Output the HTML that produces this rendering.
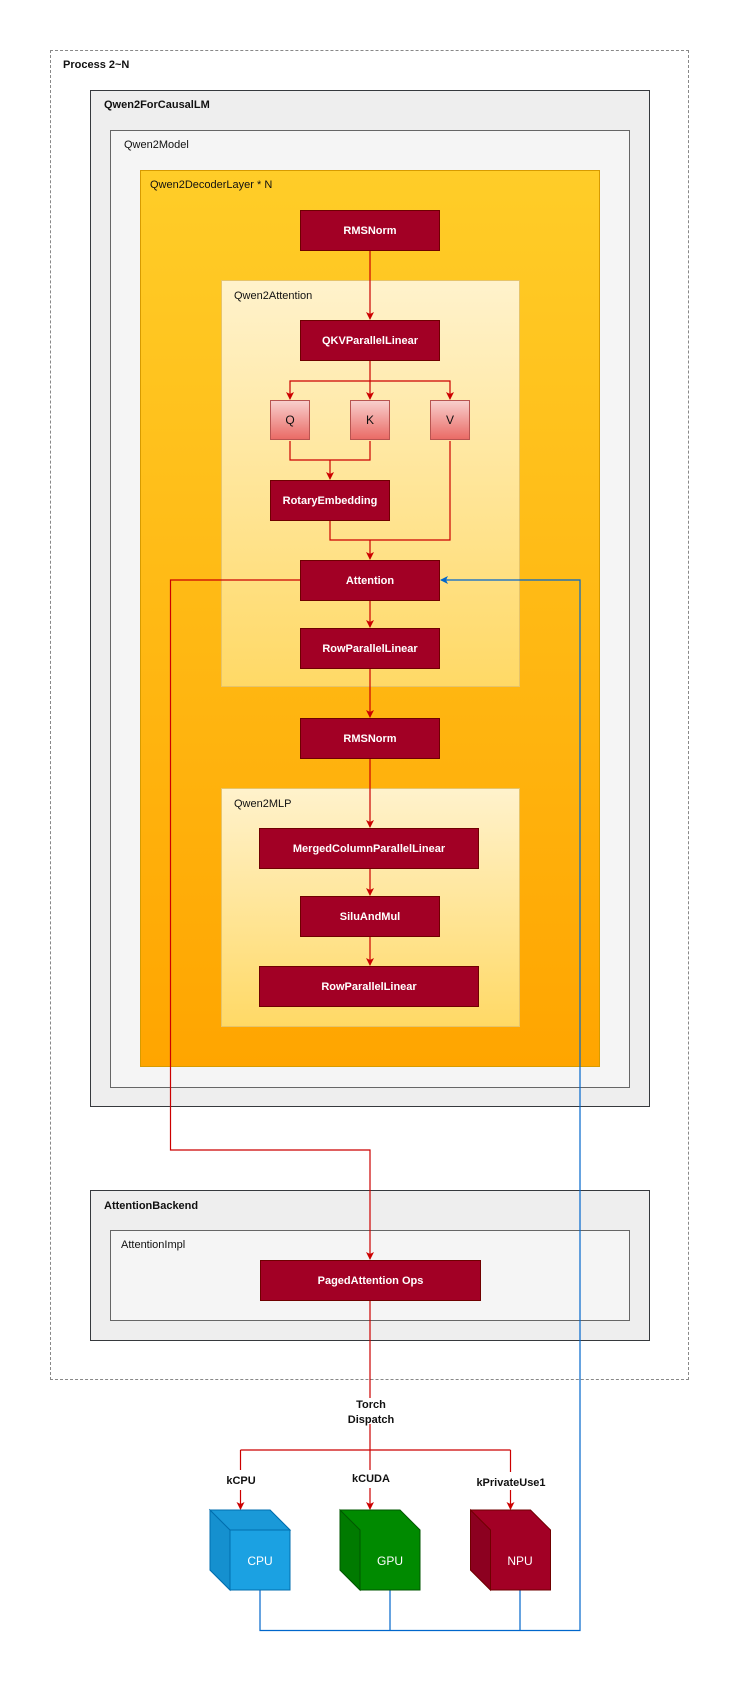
<!DOCTYPE html>
<html><head><meta charset="utf-8"><style>
body{margin:0;width:741px;height:1689px;background:#fff;position:relative;font-family:"Liberation Sans",sans-serif;overflow:hidden}
.a{position:absolute;box-sizing:border-box}
.lbl{position:absolute;font-size:11px;color:#111}
.b{position:absolute;box-sizing:border-box;background:#a20025;border:1px solid #6f0000;color:#fff;font-size:11px;font-weight:bold;display:flex;align-items:center;justify-content:center}
.q{position:absolute;box-sizing:border-box;background:linear-gradient(#f8cecc,#ea6b66);border:1px solid #b85450;color:#111;font-size:12px;display:flex;align-items:center;justify-content:center;width:40px;height:40px;top:400px}
svg{position:absolute;left:0;top:0}
</style></head><body>
<div class="a" style="left:50px;top:50px;width:639px;height:1330px;border:1px dashed #888"></div>
<div class="lbl" style="left:63px;top:59px;font-weight:bold">Process 2~N</div>
<div class="a" style="left:90px;top:90px;width:560px;height:1017px;background:#eeeeee;border:1.5px solid #36393d"></div>
<div class="lbl" style="left:104px;top:99px;font-weight:bold">Qwen2ForCausalLM</div>
<div class="a" style="left:110px;top:130px;width:520px;height:958px;background:#f5f5f5;border:1px solid #666"></div>
<div class="lbl" style="left:124px;top:139px">Qwen2Model</div>
<div class="a" style="left:140px;top:170px;width:460px;height:897px;background:linear-gradient(#ffcd28,#ffa500);border:1px solid #d79b00"></div>
<div class="lbl" style="left:150px;top:179px">Qwen2DecoderLayer * N</div>
<div class="a" style="left:221px;top:280px;width:299px;height:407px;background:linear-gradient(#fff2cc,#ffd966);border:1px solid #e6c46a"></div>
<div class="lbl" style="left:234px;top:290px">Qwen2Attention</div>
<div class="a" style="left:221px;top:788px;width:299px;height:239px;background:linear-gradient(#fff2cc,#ffd966);border:1px solid #e6c46a"></div>
<div class="lbl" style="left:234px;top:798px">Qwen2MLP</div>
<div class="a" style="left:90px;top:1190px;width:560px;height:151px;background:#eeeeee;border:1.5px solid #36393d"></div>
<div class="lbl" style="left:104px;top:1200px;font-weight:bold">AttentionBackend</div>
<div class="a" style="left:110px;top:1230px;width:520px;height:91px;background:#f5f5f5;border:1px solid #666"></div>
<div class="lbl" style="left:121px;top:1239px">AttentionImpl</div>

<div class="b" style="left:300px;top:210px;width:140px;height:41px">RMSNorm</div>
<div class="b" style="left:300px;top:320px;width:140px;height:41px">QKVParallelLinear</div>
<div class="q" style="left:270px">Q</div>
<div class="q" style="left:350px">K</div>
<div class="q" style="left:430px">V</div>
<div class="b" style="left:270px;top:480px;width:120px;height:41px">RotaryEmbedding</div>
<div class="b" style="left:300px;top:560px;width:140px;height:41px">Attention</div>
<div class="b" style="left:300px;top:628px;width:140px;height:41px">RowParallelLinear</div>
<div class="b" style="left:300px;top:718px;width:140px;height:41px">RMSNorm</div>
<div class="b" style="left:259px;top:828px;width:220px;height:41px">MergedColumnParallelLinear</div>
<div class="b" style="left:300px;top:896px;width:140px;height:41px">SiluAndMul</div>
<div class="b" style="left:259px;top:966px;width:220px;height:41px">RowParallelLinear</div>
<div class="b" style="left:260px;top:1260px;width:221px;height:41px">PagedAttention Ops</div>

<svg width="741" height="1689">
<defs>
<marker id="r" markerWidth="8" markerHeight="8" refX="7" refY="4" orient="auto" markerUnits="userSpaceOnUse"><path d="M0,0 L8,4 L0,8 L2,4z" fill="#cc0000"/></marker>
<marker id="bl" markerWidth="8" markerHeight="8" refX="7" refY="4" orient="auto" markerUnits="userSpaceOnUse"><path d="M0,0 L8,4 L0,8 L2,4z" fill="#0066cc"/></marker>
</defs>
<g fill="none" stroke="#cc0000" stroke-width="1.2">
<path d="M370,251 V319" marker-end="url(#r)"/>
<path d="M370,361 V399" marker-end="url(#r)"/>
<path d="M370,381 H290 V399" marker-end="url(#r)"/>
<path d="M370,381 H450 V399" marker-end="url(#r)"/>
<path d="M290,441 V460 H370 V441"/>
<path d="M330,460 V479" marker-end="url(#r)"/>
<path d="M330,521 V540 H450 V441"/>
<path d="M370,540 V559" marker-end="url(#r)"/>
<path d="M370,601 V627" marker-end="url(#r)"/>
<path d="M370,669 V717" marker-end="url(#r)"/>
<path d="M370,759 V827" marker-end="url(#r)"/>
<path d="M370,869 V895" marker-end="url(#r)"/>
<path d="M370,937 V965" marker-end="url(#r)"/>
<path d="M300,580 H170.5 V1150 H370 V1259" marker-end="url(#r)"/>
<path d="M370,1301 V1398"/>
<path d="M370,1424 V1450"/>
<path d="M240.5,1450 H510.5"/>
<path d="M240.5,1450 V1470 M240.5,1490 V1509" marker-end="url(#r)"/>
<path d="M370,1450 V1470 M370,1488 V1509" marker-end="url(#r)"/>
<path d="M510.5,1450 V1472 M510.5,1490 V1509" marker-end="url(#r)"/>
</g>
<g fill="none" stroke="#0066cc" stroke-width="1.2">
<path d="M260,1590 V1630.5 H580 V580 H441" marker-end="url(#bl)"/>
<path d="M390,1590 V1630.5 M520,1590 V1630.5"/>
</g>
<g stroke-width="1">
<path d="M210,1510 H270 L290,1530 V1590 H230 L210,1570z" fill="#1ba1e2" stroke="#006eaf"/>
<path d="M210,1510 L230,1530 V1590 L210,1570z" fill="#1590cf" stroke="#006eaf"/>
<path d="M210,1510 H270 L290,1530 H230z" fill="#1a99d8" stroke="#006eaf"/>
<path d="M340,1510 H400 L420,1530 V1590 H360 L340,1570z" fill="#008a00" stroke="#005700"/>
<path d="M340,1510 L360,1530 V1590 L340,1570z" fill="#007a00" stroke="#005700"/>
<path d="M470.5,1510 H530.5 L550.5,1530 V1590 H490.5 L470.5,1570z" fill="#a20025" stroke="#6f0000"/>
<path d="M470.5,1510 L490.5,1530 V1590 L470.5,1570z" fill="#8c0020" stroke="#6f0000"/>
</g>
<g font-family="Liberation Sans, sans-serif" font-size="11" font-weight="bold" text-anchor="middle" fill="#111">
<text x="371" y="1408">Torch</text>
<text x="371" y="1423">Dispatch</text>
<text x="241" y="1484">kCPU</text>
<text x="371" y="1482">kCUDA</text>
<text x="511" y="1486">kPrivateUse1</text>
</g>
<g font-family="Liberation Sans, sans-serif" font-size="12" text-anchor="middle" fill="#fff">
<text x="260" y="1565">CPU</text>
<text x="390" y="1565">GPU</text>
<text x="520" y="1565">NPU</text>
</g>
</svg>
</body></html>
